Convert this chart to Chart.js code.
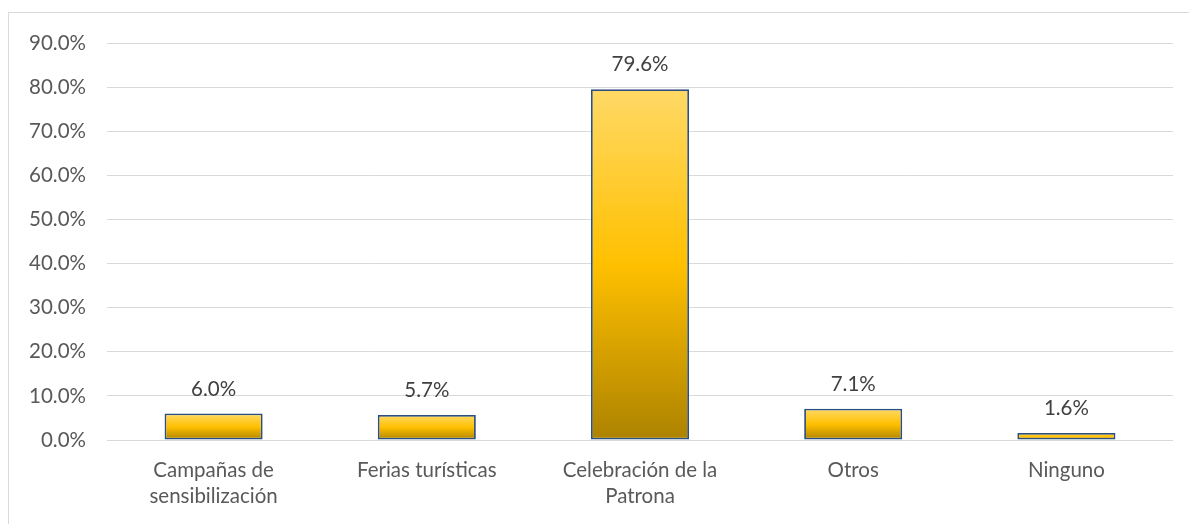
<!DOCTYPE html>
<html><head><meta charset="utf-8">
<script src="https://cdn.jsdelivr.net/npm/chart.js@4/dist/chart.umd.min.js"></script>
<style>
html,body{margin:0;padding:0;background:#fff;overflow:hidden;}
#box{position:absolute;left:8px;top:12px;width:1190px;height:520px;border:1px solid #d9d9d9;}
#c{position:absolute;left:0;top:-3px;}
</style></head><body>
<div id="box"><canvas id="c" width="1190" height="523"></canvas></div>
<script>
const categories = [["Campañas de","sensibilización"],"Ferias turísticas",["Celebración de la","Patrona"],"Otros","Ninguno"];
const values = [6.0, 5.7, 79.6, 7.1, 1.6];
const valueLabels = ["6.0%","5.7%","79.6%","7.1%","1.6%"];
const yMax = 90;
const yStep = 10;

const FONT = "Lato, 'Noto Sans', sans-serif";
const FS = 20.5;

function barGradient(ctx){
  const chart = ctx.chart;
  const ys = chart.scales.y;
  if(!ys || !ctx.parsed) return '#FFC000';
  const top = ys.getPixelForValue(ctx.parsed.y);
  const bottom = ys.getPixelForValue(0);
  if(!isFinite(top) || !isFinite(bottom) || top === bottom) return '#FFC000';
  const g = chart.ctx.createLinearGradient(0, top, 0, bottom);
  g.addColorStop(0, '#FFD966');
  g.addColorStop(0.5, '#FFC000');
  g.addColorStop(1, '#AC8200');
  return g;
}

const labelPlugin = {
  id:'valueLabels',
  afterDatasetsDraw(chart){
    const c = chart.ctx;
    const meta = chart.getDatasetMeta(0);
    c.save();
    c.font = FS + "px " + FONT;
    c.fillStyle = '#404040';
    c.textAlign = 'center';
    c.textBaseline = 'alphabetic';
    meta.data.forEach((bar,i)=>{
      c.fillText(valueLabels[i], bar.x, bar.y - 18);
    });
    c.restore();
  }
};

new Chart(document.getElementById('c'), {
  type:'bar',
  data:{labels:categories, datasets:[{
    data:values,
    backgroundColor:barGradient,
    borderColor:'#2B4F7E',
    borderWidth:1.8,
    borderSkipped:false,
    barPercentage:0.46,
    categoryPercentage:1.0
  }]},
  options:{
    responsive:false,
    animation:false,
    layout:{padding:{left:0,right:26,top:27,bottom:0}},
    plugins:{legend:{display:false},tooltip:{enabled:false}},
    scales:{
      y:{
        min:0,max:yMax,
        ticks:{stepSize:yStep,padding:21,color:'#595959',font:{family:FONT,size:FS},
          callback:v=>v.toFixed(1)+'%'},
        grid:{color:'#d9d9d9',lineWidth:1,drawTicks:false},
        border:{display:false},
        afterFit(s){s.width=98;}
      },
      x:{
        ticks:{color:'#595959',padding:17,maxRotation:0,autoSkip:false,font:{family:FONT,size:FS,lineHeight:1.27}},
        grid:{display:false,drawTicks:false},
        border:{display:false},
        afterFit(s){s.height=93;}
      }
    }
  },
  plugins:[labelPlugin]
});
</script>
</body></html>
